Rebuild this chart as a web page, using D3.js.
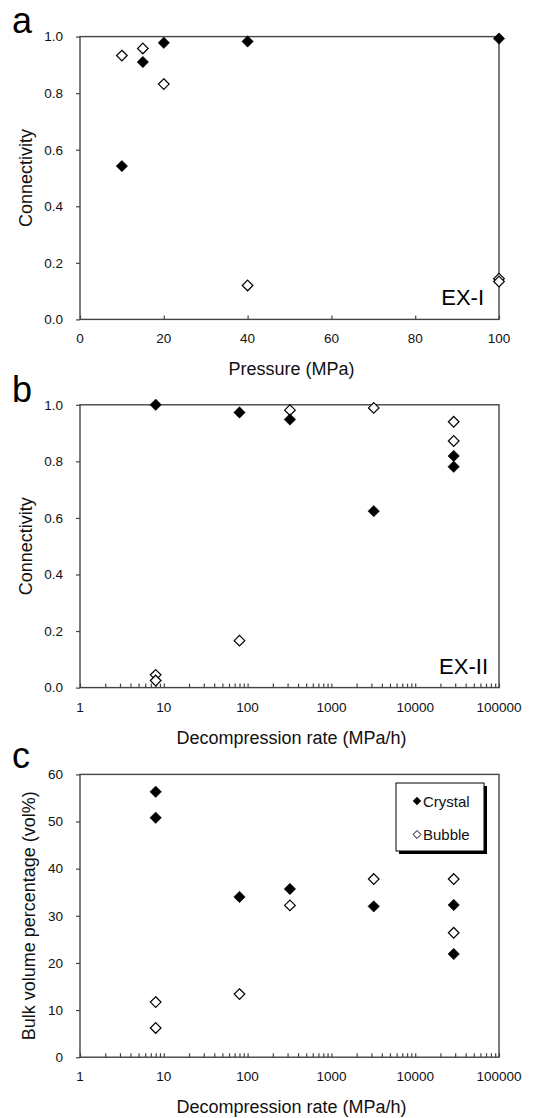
<!DOCTYPE html>
<html>
<head>
<meta charset="utf-8">
<script src="https://cdn.jsdelivr.net/npm/d3@7"></script>
<style>
  body { margin: 0; background: #fff; }
  svg { display: block; font-family: "Liberation Sans", Arial, sans-serif; }
</style>
</head>
<body>
<div id="vue"></div>
<script>
// panel a : connectivity vs pressure (EX-I)
var pressureCrystal = [10, 15, 20, 40, 100];
var connCrystalA = [0.542, 0.910, 0.978, 0.983, 0.993];
var pressureBubble = [10, 15, 20, 40, 100, 100];
var connBubbleA = [0.933, 0.958, 0.832, 0.120, 0.144, 0.134];

// panel b : connectivity vs decompression rate (EX-II)
var rateCrystalB = [8, 80, 320, 3200, 28800, 28800];
var connCrystalB = [1.0, 0.973, 0.948, 0.624, 0.819, 0.781];
var rateBubbleB = [8, 8, 80, 320, 3200, 28800, 28800];
var connBubbleB = [0.045, 0.025, 0.166, 0.981, 0.989, 0.940, 0.872];

// panel c : bulk volume percentage vs decompression rate
var rateC = [8, 8, 80, 320, 3200, 28800, 28800];
var crystalC = [56.3, 50.8, 34.0, 35.7, 32.0, 32.3, 21.9];
var bubbleC = [11.7, 6.2, 13.4, 32.2, 37.8, 37.8, 26.4];

var pressureTicks = [0, 20, 40, 60, 80, 100];
var connTicks = [0, 0.2, 0.4, 0.6, 0.8, 1.0];
var volTicks = [0, 10, 20, 30, 40, 50, 60];
var rateDecades = [1, 10, 100, 1000, 10000, 100000];
var legendLabels = ["Crystal", "Bubble"];

var width = 556, height = 1118;
var left = 80, right = 499;
var axisColor = "#444";

var svg = d3.select("#vue").append("svg")
  .attr("width", width)
  .attr("height", height);

// all minor ticks of the log axis
var rateTicks = [];
rateDecades.forEach(function (d, i) {
  if (i == rateDecades.length - 1) { rateTicks.push(d); return; }
  for (var k = 1; k < 10; k++) rateTicks.push(d * k);
});

function diamond(g, xs, ys, x, y, filled) {
  var sym = d3.symbol().type(d3.symbolDiamond2).size(filled ? 84 : 72);
  g.selectAll(null)
    .data(xs)
    .enter()
    .append("path")
    .attr("d", sym)
    .attr("transform", function (d, i) { return "translate(" + x(d) + "," + y(ys[i]) + ")"; })
    .attr("fill", filled ? "#000" : "#fff")
    .attr("stroke", "#000")
    .attr("stroke-width", filled ? 0.5 : 1.2);
}

function panel(opt) {
  var top = opt.top, bottom = opt.top + 282.8;
  var g = svg.append("g");
  var x = opt.x.range([left, right]);
  var y = opt.y.range([bottom, top]);

  // frame
  g.append("rect")
    .attr("x", left).attr("y", top)
    .attr("width", right - left).attr("height", bottom - top)
    .attr("fill", "none")
    .attr("stroke", axisColor)
    .attr("stroke-width", 1.4);

  // y axis, ticks outward
  var ya = g.append("g")
    .attr("transform", "translate(" + left + ",0)")
    .call(d3.axisLeft(y).tickValues(opt.yTicks).tickSize(4).tickPadding(13).tickFormat(opt.yFormat));
  ya.select(".domain").remove();
  ya.selectAll("line").attr("stroke", axisColor).attr("stroke-width", 1.2);
  ya.selectAll("text").attr("font-size", 13.5).attr("fill", "#111").attr("font-family", null);

  // x axis, ticks inward
  var xa = g.append("g")
    .attr("transform", "translate(0," + bottom + ")")
    .call(d3.axisBottom(x).tickValues(opt.xTicks).tickSize(-4).tickFormat(""));
  xa.select(".domain").remove();
  xa.selectAll("line").attr("stroke", axisColor).attr("stroke-width", 1.2);

  g.selectAll(null)
    .data(opt.xLabels)
    .enter()
    .append("text")
    .attr("x", function (d) { return x(d); })
    .attr("y", bottom + 24)
    .attr("text-anchor", "middle")
    .attr("font-size", 13.5)
    .attr("fill", "#111")
    .text(function (d) { return d; });

  g.append("text")
    .attr("x", (left + right) / 2 + 2)
    .attr("y", bottom + 56)
    .attr("text-anchor", "middle")
    .attr("font-size", 18)
    .attr("fill", "#111")
    .text(opt.xTitle);

  g.append("text")
    .attr("transform", "translate(" + opt.yTitleX + "," + (top + bottom) / 2 + ") rotate(-90)")
    .attr("text-anchor", "middle")
    .attr("font-size", 18)
    .attr("fill", "#111")
    .text(opt.yTitle);

  g.append("text")
    .attr("x", 12)
    .attr("y", opt.letterY)
    .attr("font-size", 36)
    .attr("fill", "#000")
    .text(opt.letter);

  if (opt.tag) {
    g.append("text")
      .attr("x", opt.tagX)
      .attr("y", bottom - 14)
      .attr("text-anchor", "end")
      .attr("font-size", 22)
      .attr("fill", "#000")
      .text(opt.tag);
  }

  opt.series.forEach(function (s) { diamond(g, s[0], s[1], x, y, s[2]); });
  return g;
}

panel({
  top: 36.6, letter: "a", letterY: 33,
  x: d3.scaleLinear().domain([0, 100]),
  y: d3.scaleLinear().domain([0, 1]),
  xTicks: pressureTicks, xLabels: pressureTicks,
  yTicks: connTicks, yFormat: d3.format(".1f"),
  xTitle: "Pressure (MPa)", yTitle: "Connectivity", yTitleX: 32,
  tag: "EX-I", tagX: 484,
  series: [[pressureBubble, connBubbleA, false], [pressureCrystal, connCrystalA, true]]
});

panel({
  top: 404.8, letter: "b", letterY: 402,
  x: d3.scaleLog().domain([1, 100000]),
  y: d3.scaleLinear().domain([0, 1]),
  xTicks: rateTicks, xLabels: rateDecades,
  yTicks: connTicks, yFormat: d3.format(".1f"),
  xTitle: "Decompression rate (MPa/h)", yTitle: "Connectivity", yTitleX: 32,
  tag: "EX-II", tagX: 488,
  series: [[rateBubbleB, connBubbleB, false], [rateCrystalB, connCrystalB, true]]
});

var gc = panel({
  top: 774.4, letter: "c", letterY: 768,
  x: d3.scaleLog().domain([1, 100000]),
  y: d3.scaleLinear().domain([0, 60]),
  xTicks: rateTicks, xLabels: rateDecades,
  yTicks: volTicks, yFormat: d3.format("d"),
  xTitle: "Decompression rate (MPa/h)", yTitle: "Bulk volume percentage (vol%)", yTitleX: 35,
  series: [[rateC, bubbleC, false], [rateC, crystalC, true]]
});

// legend with drop shadow
var lg = gc.append("g").attr("transform", "translate(396,783)");
lg.append("rect").attr("x", 3).attr("y", 3).attr("width", 88).attr("height", 68).attr("fill", "#000");
lg.append("rect").attr("width", 88).attr("height", 68).attr("fill", "#fff").attr("stroke", "#000").attr("stroke-width", 1);
var items = lg.selectAll("g.item")
  .data(legendLabels)
  .enter()
  .append("g")
  .attr("class", "item")
  .attr("transform", function (d, i) { return "translate(21," + (18 + i * 33.5) + ")"; });
items.append("path")
  .attr("d", d3.symbol().type(d3.symbolDiamond2).size(40))
  .attr("fill", function (d, i) { return i == 0 ? "#000" : "#fff"; })
  .attr("stroke", "#000")
  .attr("stroke-width", function (d, i) { return i == 0 ? 0.5 : 1; });
items.append("text")
  .attr("x", 6)
  .attr("y", 5.5)
  .attr("font-size", 15)
  .attr("fill", "#111")
  .text(function (d) { return d; });
</script>
</body>
</html>
